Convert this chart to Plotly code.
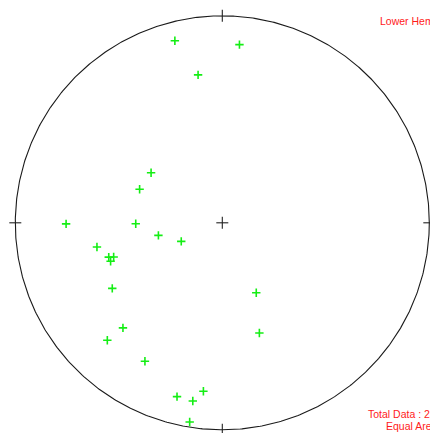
import numpy as np
import plotly.graph_objects as go

# Pole orientations (degrees): trend measured clockwise from north, plunge downward
trend = [345.4, 5.5, 350.7, 305.1, 292.1, 269.4, 258.9, 245.7, 259.1, 253.2,
         252.5, 251.0, 269.6, 239.2, 154.1, 223.4, 161.4, 224.4, 209.2, 186.4,
         194.6, 189.4, 189.3]
plunge = [10.0, 14.6, 28.4, 55.4, 54.5, 55.6, 64.3, 72.3, 38.3, 42.2,
          44.2, 42.4, 25.5, 38.1, 59.2, 30.8, 43.2, 21.7, 24.4, 19.2,
          14.3, 13.8, 2.8]

header_text = "Lower Hem."
footer_lines = [f"Total Data : {len(trend)}", "Equal Area"]

# Lambert equal-area projection, lower hemisphere, unit primitive circle
t = np.radians(trend)
p = np.radians(plunge)
r = np.sqrt(2) * np.sin((np.pi / 2 - p) / 2)
px = r * np.sin(t)
py = r * np.cos(t)

fig = go.Figure()

# primitive circle
a = np.linspace(0, 2 * np.pi, 721)
fig.add_trace(go.Scatter(x=np.cos(a), y=np.sin(a), mode="lines",
                         line=dict(color="#1a1a1a", width=1.1),
                         hoverinfo="skip", showlegend=False))

# N/E/S/W ticks and centre cross
k = 6 / 207
tx, ty = [], []
for cx, cy, dx, dy in [(0, 1, 0, k), (0, -1, 0, k), (1, 0, k, 0), (-1, 0, k, 0)]:
    tx += [cx - dx, cx + dx, None]
    ty += [cy - dy, cy + dy, None]
tx += [-k, k, None, 0, 0, None]
ty += [0, 0, None, -k, k, None]
fig.add_trace(go.Scatter(x=tx, y=ty, mode="lines",
                         line=dict(color="#222222", width=1.1),
                         hoverinfo="skip", showlegend=False))

# poles
fig.add_trace(go.Scatter(x=px, y=py, mode="markers",
                         marker=dict(symbol="cross-thin", size=6,
                                     line=dict(color="#14ee14", width=1.6)),
                         showlegend=False))

font = dict(family="Liberation Sans, Arial, sans-serif", size=10.5, color="#ff1a1a")
fig.add_annotation(text=header_text, xref="paper", yref="paper",
                   x=378 / 430, y=1 - 21 / 433, xanchor="left", yanchor="middle",
                   showarrow=False, font=font)
fig.add_annotation(text=footer_lines[0], xref="paper", yref="paper",
                   x=366 / 430, y=1 - 413.5 / 433, xanchor="left", yanchor="middle",
                   showarrow=False, font=font)
fig.add_annotation(text=footer_lines[1], xref="paper", yref="paper",
                   x=384 / 430, y=1 - 425.5 / 433, xanchor="left", yanchor="middle",
                   showarrow=False, font=font)

fig.update_layout(
    width=430, height=433,
    margin=dict(l=0, r=0, t=0, b=0),
    paper_bgcolor="white", plot_bgcolor="white",
    xaxis=dict(range=[-222.3 / 207, 207.7 / 207], visible=False, fixedrange=True),
    yaxis=dict(range=[-210.2 / 207, 222.8 / 207], visible=False, fixedrange=True),
)

fig.write_html("out.html")
